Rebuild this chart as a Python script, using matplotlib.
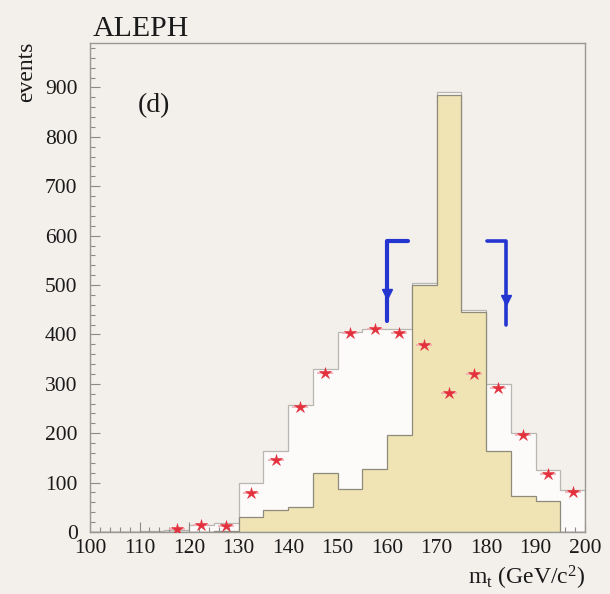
import matplotlib
matplotlib.use("Agg")
import matplotlib.pyplot as plt
import numpy as np
from matplotlib.ticker import MultipleLocator

# --- data -------------------------------------------------------------
bin_edges = np.arange(100, 205, 5)          # 5 GeV/c^2 bins, 100..200
total_mc = [1, 1, 2, 5, 14, 18, 100, 165, 258, 330,
            405, 410, 410, 505, 890, 450, 300, 200, 125, 85]
signal_mc = [0, 0, 0, 0, 0, 2, 30, 45, 50, 120,
             87, 128, 197, 500, 885, 445, 163, 72, 62, 0]
data_x = [117.5, 122.5, 127.5, 132.5, 137.5, 142.5, 147.5, 152.5, 157.5,
          162.5, 167.5, 172.5, 177.5, 182.5, 187.5, 192.5, 197.5]
data_y = [7, 15, 12, 79, 146, 253, 322, 403, 411,
          403, 379, 281, 320, 292, 196, 117, 81]
cut_low = 160.0
cut_high = 184.0
xticks = [100, 110, 120, 130, 140, 150, 160, 170, 180, 190, 200]
yticks = [0, 100, 200, 300, 400, 500, 600, 700, 800, 900]

# --- style ------------------------------------------------------------
plt.rcParams["font.family"] = ["Liberation Serif", "DejaVu Serif"]
plt.rcParams["mathtext.fontset"] = "custom"
plt.rcParams["mathtext.rm"] = "Liberation Serif"
plt.rcParams["mathtext.it"] = "Liberation Serif:italic"

paper = "#f3f0ec"
fig = plt.figure(figsize=(6.10, 5.94), dpi=100, facecolor=paper)
ax = fig.add_axes([90 / 610, 62 / 594, 495 / 610, 489 / 594], facecolor=paper)

centers = bin_edges[:-1]
ax.hist(centers, bins=bin_edges, weights=total_mc, histtype="stepfilled",
        facecolor="#fcfbf9", edgecolor="#b9b6b2", linewidth=0.9, zorder=1)
ax.hist(centers, bins=bin_edges, weights=signal_mc, histtype="stepfilled",
        facecolor="#f0e4b4", edgecolor="#8f8b7c", linewidth=0.9, zorder=2)

ax.errorbar(data_x, data_y, xerr=1.6, fmt="none", ecolor="#f2a9b0",
            elinewidth=1.2, zorder=3)
ax.plot(data_x, data_y, linestyle="none", marker="*", markersize=9,
        color="#e3303c", markeredgewidth=0.4, zorder=4)

# hand-marked mass window
blue = "#2536d0"
ax.plot([cut_low, cut_low, cut_low + 4.2], [428, 590, 590], color=blue,
        lw=3, solid_capstyle="round", solid_joinstyle="round", zorder=5)
ax.plot([cut_low], [482], marker="v", markersize=7, color=blue, zorder=5)
ax.plot([cut_high, cut_high, cut_high - 3.8], [420, 590, 590], color=blue,
        lw=2.6, solid_capstyle="round", solid_joinstyle="round", zorder=5)
ax.plot([cut_high], [470], marker="v", markersize=7, color=blue, zorder=5)

ax.set_xlim(100, 200)
ax.set_ylim(0, 990)
ax.set_xticks(xticks)
ax.set_yticks(yticks)
ax.xaxis.set_minor_locator(MultipleLocator(2))
ax.yaxis.set_minor_locator(MultipleLocator(20))
ax.tick_params(which="both", direction="in", colors="#8a8a8a",
               labelcolor="#1a1a1a", labelsize=15.5, width=0.8)
ax.tick_params(which="major", length=7)
ax.tick_params(which="minor", length=3.5)
ax.tick_params(axis="x", pad=5)
ax.tick_params(axis="y", pad=9)
for s in ax.spines.values():
    s.set_color("#9a9894")
    s.set_linewidth(1.0)

fig.text(93 / 610, 1 - 36 / 594, "ALEPH", fontsize=21.5, color="#1a1a1a",
         ha="left", va="baseline")
ax.text(113, 863, "(d)", fontsize=20, color="#1a1a1a", ha="center",
        va="center")
fig.text(27 / 610, 1 - 72 / 594, "events", fontsize=17, rotation=90,
         color="#1a1a1a", ha="center", va="center")
fig.text(527 / 610, 1 - 578 / 594, r"m$_\mathrm{t}$ (GeV/c$^2$)",
         fontsize=17, color="#1a1a1a", ha="center", va="center")

fig.savefig("out.png", dpi=100, facecolor=paper)
